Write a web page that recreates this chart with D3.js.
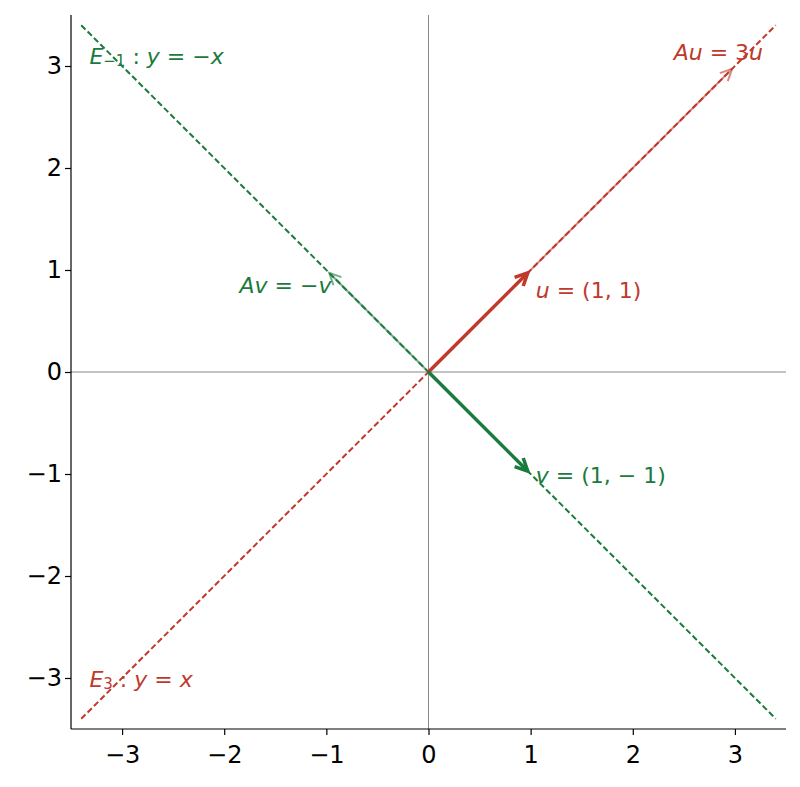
<!DOCTYPE html><html><head><meta charset="utf-8"><script src="https://cdn.jsdelivr.net/npm/d3@7"></script>
<style>body{margin:0;background:#fff}text{font-family:"DejaVu Sans",sans-serif}</style></head><body><svg id="c" width="800" height="787"></svg>
<script>
const ticks=[-3,-2,-1,0,1,2,3];
const eigenLines=[{name:"E3",slope:1,color:"#c0392b"},{name:"E-1",slope:-1,color:"#1b7a3d"}];
const vectors=[
 {x:3,y:3,color:"#c0392b",w:2,op:0.6},
 {x:-1,y:1,color:"#1b7a3d",w:2,op:0.6},
 {x:1,y:1,color:"#c0392b",w:3.5,op:1},
 {x:1,y:-1,color:"#1b7a3d",w:3.5,op:1}];
const labels=[
 {x:2.4,y:3.12,parts:[["Au",1],[" = 3",0],["u",1]],color:"#c0392b",anchor:"start"},
 {x:1.05,y:0.78,parts:[["u",1],[" = (1, 1)",0]],color:"#c0392b",anchor:"start"},
 {x:1.05,y:-1.03,parts:[["v",1],[" = (1, − 1)",0]],color:"#1b7a3d",anchor:"start"},
 {x:-0.95,y:0.83,parts:[["Av",1],[" = −",0],["v",1]],color:"#1b7a3d",anchor:"end"},
 {x:-3.32,y:3.08,parts:[["E",1],["−1",2],[" : ",0],["y",1],[" = −",0],["x",1]],color:"#1b7a3d",anchor:"start"},
 {x:-3.32,y:-3.03,parts:[["E",1],["3",2],[" : ",0],["y",1],[" = ",0],["x",1]],color:"#c0392b",anchor:"start"}];
const svg=d3.select("#c");
const X=d3.scaleLinear().domain([-3.5,3.5]).range([71,786]);
const Y=d3.scaleLinear().domain([-3.5,3.5]).range([729,15]);
svg.append("line").attr("x1",X(-3.5)).attr("x2",X(3.5)).attr("y1",Y(0)).attr("y2",Y(0)).attr("stroke","#888").attr("stroke-width",1);
svg.append("line").attr("x1",X(0)).attr("x2",X(0)).attr("y1",Y(-3.5)).attr("y2",Y(3.5)).attr("stroke","#888").attr("stroke-width",1);
eigenLines.forEach(l=>svg.append("line").attr("x1",X(-3.4)).attr("y1",Y(-3.4*l.slope)).attr("x2",X(3.4)).attr("y2",Y(3.4*l.slope)).attr("stroke",l.color).attr("stroke-width",2).attr("stroke-dasharray","6,3"));
vectors.forEach(v=>{
 const x0=X(0),y0=Y(0);
 const ang0=Math.atan2(Y(v.y)-y0,X(v.x)-x0);
 const x1=X(v.x)-Math.cos(ang0)*4,y1=Y(v.y)-Math.sin(ang0)*4;
 const ang=ang0,L=v.w>3?14:13,sp=0.45;
 const g=svg.append("g").attr("opacity",v.op);
 g.append("line").attr("x1",x0).attr("y1",y0).attr("x2",x1-Math.cos(ang)*1).attr("y2",y1-Math.sin(ang)*1).attr("stroke",v.color).attr("stroke-width",v.w);
 g.append("path").attr("d",`M${x1-L*Math.cos(ang-sp)},${y1-L*Math.sin(ang-sp)}L${x1},${y1}L${x1-L*Math.cos(ang+sp)},${y1-L*Math.sin(ang+sp)}`).attr("fill","none").attr("stroke",v.color).attr("stroke-width",v.w).attr("stroke-linejoin","miter");
});
labels.forEach(l=>{
 const t=svg.append("text").attr("x",X(l.x)).attr("y",Y(l.y)).attr("fill",l.color).attr("font-size",22).attr("text-anchor",l.anchor).attr("dominant-baseline","middle");
 l.parts.forEach(p=>{const s=t.append("tspan").text(p[0]);
  if(p[1]==1)s.attr("font-style","italic");
  if(p[1]==2)s.attr("font-size",15).attr("baseline-shift","-25%");});
});
const xa=svg.append("g").attr("transform",`translate(0,${Y(-3.5)})`).call(d3.axisBottom(X).tickValues(ticks).tickSize(6).tickFormat(d=>d<0?"−"+(-d):d));
const ya=svg.append("g").attr("transform",`translate(${X(-3.5)},0)`).call(d3.axisLeft(Y).tickValues(ticks).tickSize(6).tickFormat(d=>d<0?"−"+(-d):d));
[xa,ya].forEach(a=>{a.selectAll("text").attr("font-size",24).attr("fill","#000").attr("font-family","DejaVu Sans");a.selectAll("path,line").attr("stroke","#000").attr("stroke-width",1.2);});
xa.select(".domain").attr("d",`M${X(-3.5)},0H${X(3.5)}`);
ya.select(".domain").attr("d",`M0,${Y(-3.5)}V${Y(3.5)}`);
xa.selectAll("text").attr("dy","1.05em");
ya.selectAll("text").attr("x",-9);
</script></body></html>
